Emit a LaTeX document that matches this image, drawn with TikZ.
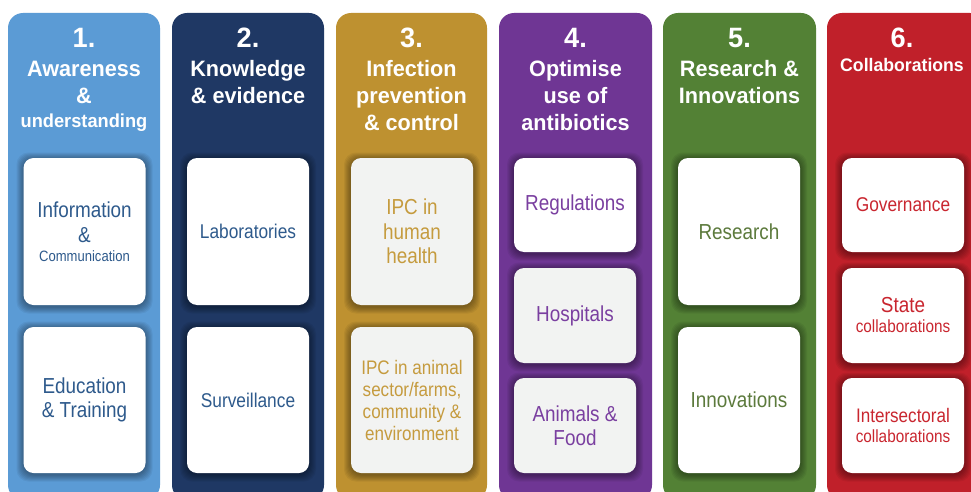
\documentclass[tikz,border=0pt]{standalone}
\usepackage{fontspec}
\setmainfont{Liberation Sans}[FakeStretch=0.87]
\newfontfamily\hdfont{Liberation Sans}[FakeStretch=0.97]
\definecolor{cA}{HTML}{5B9BD5}
\definecolor{cB}{HTML}{1F3864}
\definecolor{cC}{HTML}{BE9130}
\definecolor{cD}{HTML}{6F3694}
\definecolor{cE}{HTML}{538135}
\definecolor{cF}{HTML}{C0202A}
\definecolor{tA}{HTML}{2E5A8C}
\definecolor{tC}{HTML}{C59B3E}
\definecolor{tD}{HTML}{7A3FA0}
\definecolor{tE}{HTML}{5C7A3C}
\definecolor{tF}{HTML}{C9262F}
\definecolor{gr}{HTML}{F2F3F2}
\newcommand{\mkcard}[8]{%
  \foreach \k in {1,...,7}{
    \fill[black, opacity=0.055, rounded corners=12pt] ({#2-61-\k},{#3-\k+1.5}) rectangle ({#2+61+\k},{#4+\k+1.5});
  }
  \node[card, fill=#5, text=#6, font=#7, minimum height={#4-#3}] (#1) at (#2,{(#3+#4)/2}) {#8};
}
\begin{document}
\begin{tikzpicture}[x=1pt,y=-1pt,
  colbox/.style={rounded corners=15pt},
  card/.style={rounded corners=10pt, inner sep=0pt, align=center, minimum width=122pt},
  hd/.style={text=white, anchor=base, inner sep=0pt},
  num/.style={hd, font=\hdfont\fontsize{28}{30}\selectfont\bfseries},
  ttl/.style={hd, font=\hdfont\fontsize{22.3}{27}\selectfont\bfseries},
]
\useasboundingbox (0,0) rectangle (971,492);
\clip (0,0) rectangle (971,492);
\fill[white] (0,0) rectangle (971,492);
% columns
\fill[cA, colbox] (8,13) rectangle (160,500);
\fill[cB, colbox] (172,13) rectangle (324,500);
\fill[cC, colbox] (336,13) rectangle (487,500);
\fill[cD, colbox] (499,13) rectangle (652,500);
\fill[cE, colbox] (663,13) rectangle (816,500);
\fill[cF, colbox] (827,13) rectangle (985,500);
% headers
\node[num] (n1) at (84,48) {1.};
\node[ttl] (h1a) at (84,77) {Awareness};
\node[ttl] (h1b) at (84,104) {\&};
\node[hd, font=\hdfont\fontsize{18.8}{24}\selectfont\bfseries] (h1c) at (84,128) {understanding};
\node[num] (n2) at (248,48) {2.};
\node[ttl] (h2a) at (248,77) {Knowledge};
\node[ttl] (h2b) at (248,104) {\& evidence};
\node[num] (n3) at (411.5,48) {3.};
\node[ttl] (h3a) at (411.5,77) {Infection};
\node[ttl] (h3b) at (411.5,104) {prevention};
\node[ttl] (h3c) at (411.5,131) {\& control};
\node[num] (n4) at (575.5,48) {4.};
\node[ttl] (h4a) at (575.5,77) {Optimise};
\node[ttl] (h4b) at (575.5,104) {use of};
\node[ttl] (h4c) at (575.5,131) {antibiotics};
\node[num] (n5) at (739.5,48) {5.};
\node[ttl] (h5a) at (739.5,77) {Research \&};
\node[ttl] (h5b) at (739.5,104) {Innovations};
\node[num] (n6) at (902,48) {6.};
\node[hd, font=\hdfont\fontsize{18.2}{23}\selectfont\bfseries] (h6a) at (902,72) {Collaborations};
% cards
\mkcard{b1a}{84.5}{158}{305}{white}{tA}{\fontsize{21.7}{25}\selectfont}{Information\\\&\\[-6pt]{\fontsize{15}{17}\selectfont Communication}}
\mkcard{b1b}{84.5}{327}{473}{white}{tA}{\fontsize{21.7}{24}\selectfont}{Education\\\& Training}
\mkcard{b2a}{248}{158}{305}{white}{tA}{\fontsize{19.9}{23}\selectfont}{Laboratories}
\mkcard{b2b}{248}{327}{473}{white}{tA}{\fontsize{19.9}{23}\selectfont}{Surveillance}
\mkcard{b3a}{412}{158}{305}{gr}{tC}{\fontsize{21.7}{24.5}\selectfont}{IPC in\\human\\health}
\mkcard{b3b}{412}{327}{473}{gr}{tC}{\fontsize{19.6}{22}\selectfont}{IPC in animal\\sector/farms,\\community \&\\environment}
\mkcard{b4a}{575}{158}{252}{white}{tD}{\fontsize{21.7}{24}\selectfont}{Regulations}
\mkcard{b4b}{575}{268}{363}{gr}{tD}{\fontsize{21.7}{24}\selectfont}{Hospitals}
\mkcard{b4c}{575}{378}{473}{gr}{tD}{\fontsize{21.7}{24}\selectfont}{Animals \&\\Food}
\mkcard{b5a}{739}{158}{305}{white}{tE}{\fontsize{21.7}{24}\selectfont}{Research}
\mkcard{b5b}{739}{327}{473}{white}{tE}{\fontsize{21.7}{24}\selectfont}{Innovations}
\mkcard{b6a}{903}{158}{252}{white}{tF}{\fontsize{19.9}{23}\selectfont}{Governance}
\mkcard{b6b}{903}{268}{363}{white}{tF}{\fontsize{17.6}{20}\selectfont}{{\fontsize{21.7}{24}\selectfont State}\\collaborations}
\mkcard{b6c}{903}{378}{473}{white}{tF}{\fontsize{17.6}{20}\selectfont}{{\fontsize{19.6}{22}\selectfont Intersectoral}\\collaborations}
\end{tikzpicture}
\end{document}
